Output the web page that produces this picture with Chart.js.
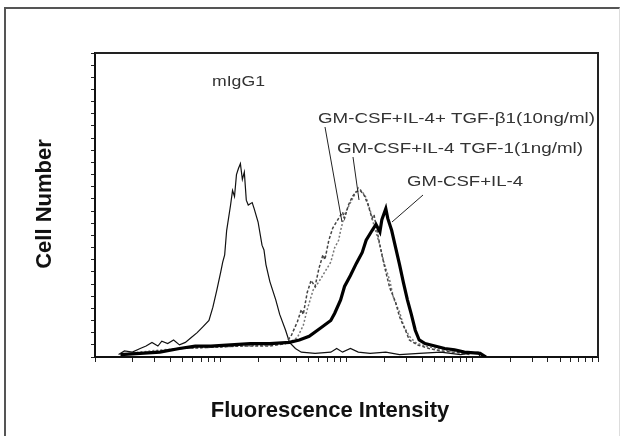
<!DOCTYPE html>
<html>
<head>
<meta charset="utf-8">
<script src="https://cdn.jsdelivr.net/npm/chart.js@4.4.1/dist/chart.umd.min.js"></script>
<style>
  html, body { margin: 0; padding: 0; background: #fff; }
  #wrap { position: relative; width: 622px; height: 436px; overflow: hidden; }
  #frame { position: absolute; left: 4px; top: 7px; right: 2px; bottom: -6px;
           border-left: 2px solid #555; border-top: 2px solid #555; border-right: 1px solid #ddd; }
  canvas { position: absolute; left: 0; top: 0; }
</style>
</head>
<body>
<div id="wrap">
  <div id="frame"></div>
  <canvas id="flowChart" width="622" height="436"></canvas>
</div>
<script>
// histogram data: channel (0-256 over 4 log decades) and cell counts
const iggCh = [12, 15, 19, 23, 26, 29, 32, 34, 37, 40, 43, 46, 49, 52, 55, 58, 60, 62, 64, 65, 66, 67, 69, 70, 71, 72, 73, 74, 75, 76, 77, 78, 80, 81, 83, 85, 86, 87, 89, 92, 94, 97, 99, 102, 105, 112, 120, 123, 126, 130, 134, 140, 148, 155, 165, 176, 186, 195, 196];
const iggCt = [2, 5, 4, 7, 9, 12, 9, 13, 11, 14, 10, 12, 16, 20, 25, 30, 41, 55, 70, 78, 84, 104, 125, 137, 132, 150, 155, 159, 146, 152, 129, 125, 127, 122, 111, 92, 88, 76, 62, 47, 35, 22, 12, 7, 4, 3, 4, 7, 4, 7, 4, 3, 4, 2, 3, 4, 2, 4, 0];

const il4Ch = [13, 23, 33, 43, 51, 59, 69, 79, 89, 99, 104, 109, 115, 120, 122, 125, 127, 130, 133, 136, 138, 141, 143, 145, 146, 148, 149, 151, 153, 155, 157, 159, 161, 163, 165, 168, 173, 178, 183, 188, 196, 199];
const il4Ct = [2, 3, 4, 7, 9, 9, 10, 11, 11, 12, 14, 17, 24, 30, 36, 47, 58, 67, 77, 86, 96, 104, 109, 103, 113, 122, 114, 104, 90, 76, 61, 47, 35, 22, 14, 11, 9, 7, 6, 4, 3, 0];

const tgf10Ch = [13, 28, 43, 59, 74, 89, 97, 100, 103, 105, 106, 108, 110, 112, 114, 116, 117, 119, 121, 124, 126, 127, 129, 131, 133, 135, 137, 139, 141, 142, 144, 146, 148, 150, 153, 155, 158, 160, 164, 170, 176, 183, 191];
const tgf10Ct = [2, 4, 7, 8, 9, 9, 11, 18, 29, 39, 35, 53, 63, 58, 73, 84, 80, 96, 106, 114, 119, 114, 125, 132, 136, 137, 133, 125, 114, 117, 100, 84, 70, 57, 45, 33, 22, 14, 10, 7, 5, 4, 2];

const tgf1Ch = [13, 28, 43, 59, 74, 89, 99, 103, 106, 108, 111, 114, 117, 120, 122, 124, 125, 127, 130, 132, 134, 136, 138, 140, 142, 145, 147, 150, 152, 155, 157, 160, 163, 168, 174, 181, 188];
const tgf1Ct = [2, 5, 7, 8, 9, 10, 12, 16, 26, 39, 55, 62, 70, 78, 90, 96, 104, 117, 127, 133, 139, 136, 131, 121, 108, 92, 78, 63, 48, 37, 26, 17, 12, 9, 7, 5, 3];

const seriesNames = ['GM-CSF+IL-4', 'GM-CSF+IL-4+ TGF-β1(10ng/ml)', 'GM-CSF+IL-4 TGF-1(1ng/ml)', 'mIgG1'];
const decades = [1, 10, 100, 1000];
const xTitle = 'Fluorescence Intensity';
const yTitle = 'Cell Number';

function pts(xs, ys) {
  return xs.map((x, i) => ({ x: x, y: ys[i] }));
}

// log-decade tick marks on a 256 channel axis
const xTickValues = [];
decades.forEach((d, n) => {
  for (let k = 1; k <= 9; k++) xTickValues.push(64 * (n + Math.log10(k)));
});
xTickValues.push(256);

function stretchText(ctx, text, x, y, w) {
  const m = ctx.measureText(text).width;
  ctx.save();
  ctx.translate(x, y);
  ctx.scale(w / m, 1);
  ctx.fillText(text, 0, 0);
  ctx.restore();
}

const annotate = {
  id: 'annotate',
  afterDraw(chart) {
    const ctx = chart.ctx, a = chart.chartArea;
    ctx.save();
    // close the plot box
    ctx.strokeStyle = '#222';
    ctx.lineWidth = 2;
    ctx.beginPath();
    ctx.moveTo(a.left, a.top);
    ctx.lineTo(a.right, a.top);
    ctx.lineTo(a.right, a.bottom);
    ctx.stroke();

    // axis titles
    ctx.fillStyle = '#111';
    ctx.font = 'bold 22px "Liberation Sans", Arial, sans-serif';
    ctx.textAlign = 'center';
    ctx.textBaseline = 'middle';
    ctx.fillText(xTitle, 330, 411);
    ctx.save();
    ctx.translate(45, 204);
    ctx.rotate(-Math.PI / 2);
    ctx.fillText(yTitle, 0, 0);
    ctx.restore();

    // curve labels
    ctx.fillStyle = '#333';
    ctx.font = '14px "Liberation Sans", Arial, sans-serif';
    ctx.textAlign = 'left';
    stretchText(ctx, seriesNames[3], 212, 82, 53);
    stretchText(ctx, seriesNames[1], 318, 119, 277);
    stretchText(ctx, seriesNames[2], 337, 149, 246);
    stretchText(ctx, seriesNames[0], 407, 182, 116);

    // leader lines
    ctx.strokeStyle = '#222';
    ctx.lineWidth = 1;
    const leaders = [[325, 127, 342, 222], [353, 157, 359, 200], [423, 195, 392, 222]];
    leaders.forEach(l => {
      ctx.beginPath();
      ctx.moveTo(l[0], l[1]);
      ctx.lineTo(l[2], l[3]);
      ctx.stroke();
    });
    ctx.restore();
  }
};

const ctx = document.getElementById('flowChart').getContext('2d');
new Chart(ctx, {
  type: 'line',
  data: {
    datasets: [{
      label: seriesNames[0],
      data: pts(il4Ch, il4Ct),
      borderColor: '#000',
      borderWidth: 3.2,
      order: 0
    }, {
      label: seriesNames[1],
      data: pts(tgf10Ch, tgf10Ct),
      borderColor: '#444',
      borderWidth: 1.5,
      borderDash: [3, 2],
      order: 1
    }, {
      label: seriesNames[2],
      data: pts(tgf1Ch, tgf1Ct),
      borderColor: '#777',
      borderWidth: 1.5,
      borderDash: [2, 2],
      order: 2
    }, {
      label: seriesNames[3],
      data: pts(iggCh, iggCt),
      borderColor: '#111',
      borderWidth: 1.2,
      order: 3
    }]
  },
  options: {
    responsive: false,
    animation: false,
    events: [],
    elements: {
      point: { radius: 0 },
      line: { tension: 0, fill: false }
    },
    layout: {
      padding: { left: 91, right: 24, top: 53, bottom: 74 }
    },
    scales: {
      x: {
        type: 'linear',
        min: 0,
        max: 256,
        afterBuildTicks: function(scale) {
          scale.ticks = xTickValues.map(v => ({ value: v }));
        },
        ticks: { display: false },
        grid: {
          drawOnChartArea: false,
          tickLength: 5,
          color: '#222'
        },
        border: { color: '#111', width: 2 }
      },
      y: {
        min: 0,
        max: 250,
        ticks: { display: false, stepSize: 10 },
        grid: {
          drawOnChartArea: false,
          tickLength: 4,
          color: '#222'
        },
        border: { color: '#111', width: 2 }
      }
    },
    plugins: {
      legend: { display: false },
      tooltip: { enabled: false }
    }
  },
  plugins: [annotate]
});
</script>
</body>
</html>
